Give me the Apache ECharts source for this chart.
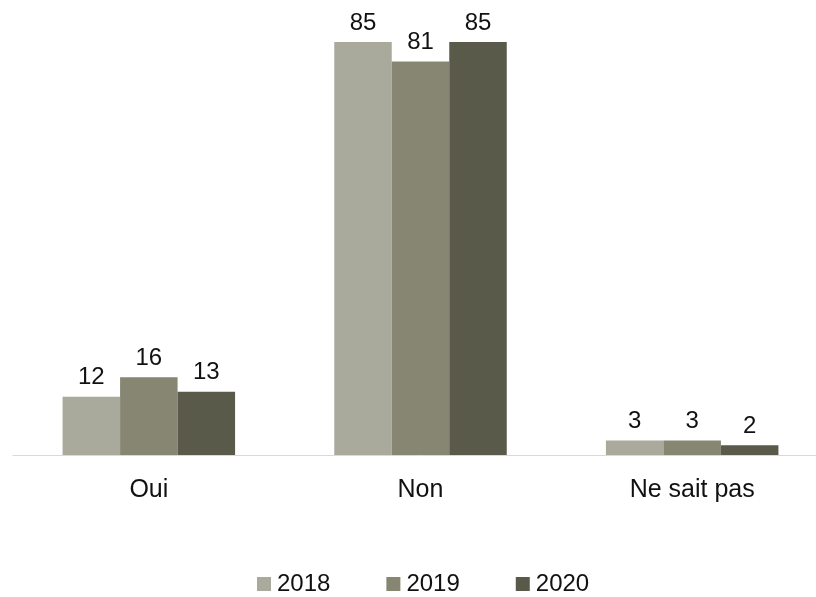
<!DOCTYPE html>
<html>
<head>
<meta charset="utf-8">
<script src="https://cdn.jsdelivr.net/npm/echarts@6/dist/echarts.min.js"></script>
<style>
  html, body { margin: 0; padding: 0; background: #ffffff; overflow: hidden; }
  #chart { width: 830px; height: 597px; }
</style>
</head>
<body>
<div id="chart"></div>
<script>
// Survey answers by year (percent)
const categories = ['Oui', 'Non', 'Ne sait pas'];
const years = ['2018', '2019', '2020'];
const values2018 = [12, 85, 3];
const values2019 = [16, 81, 3];
const values2020 = [13, 85, 2];
const colors = ['#a9aa9c', '#868672', '#5a5a4a'];

const seriesValues = [values2018, values2019, values2020];
const font = 'Liberation Sans, Arial, sans-serif';

const chart = echarts.init(document.getElementById('chart'));
chart.setOption({
  animation: false,
  color: colors,
  textStyle: { fontFamily: font },
  legend: {
    data: years,
    top: 572,
    left: 257,
    padding: 0,
    itemWidth: 14,
    itemHeight: 14,
    itemGap: 56,
    icon: 'rect',
    textStyle: { fontSize: 24, color: '#111111', fontFamily: font, padding: [0, 0, 0, 1] }
  },
  grid: { left: 13, width: 815, top: 42, height: 413, containLabel: false },
  xAxis: {
    type: 'category',
    data: categories,
    axisLine: { show: true, lineStyle: { color: '#d9d9d9', width: 1 } },
    axisTick: { show: false },
    axisLabel: { fontSize: 25, color: '#111111', margin: 23, fontFamily: font }
  },
  yAxis: {
    type: 'value',
    min: 0,
    max: 85,
    show: false,
    splitLine: { show: false }
  },
  series: years.map((y, i) => ({
    name: y,
    type: 'bar',
    data: seriesValues[i],
    barWidth: 57.5,
    barGap: '0%',
    itemStyle: { color: colors[i] },
    label: {
      show: true,
      position: 'top',
      distance: 7,
      fontSize: 24,
      color: '#111111',
      fontFamily: font
    }
  }))
});
</script>
</body>
</html>
